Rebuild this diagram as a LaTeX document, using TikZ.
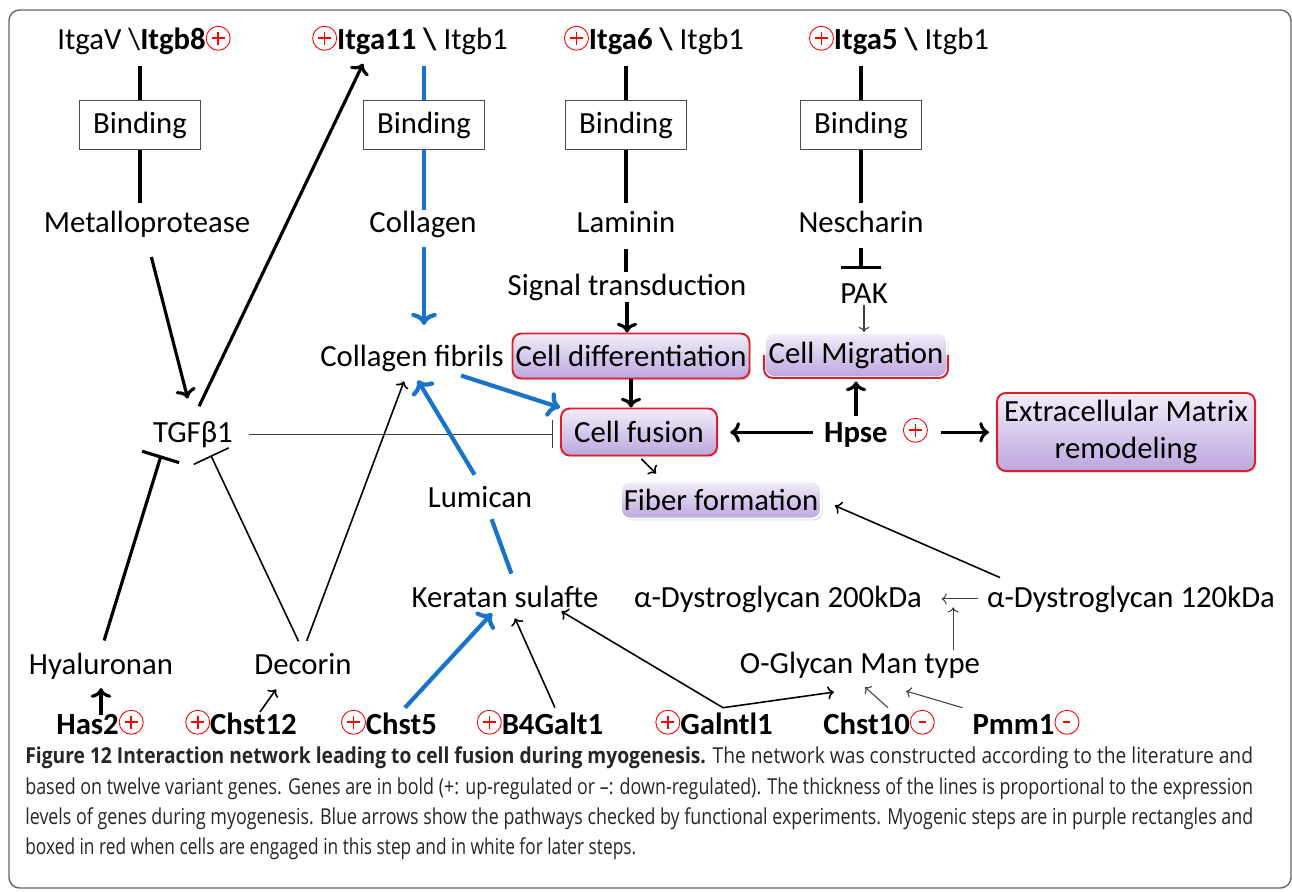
\documentclass[tikz,border=0pt]{standalone}
\usepackage{fontspec}
\setmainfont{Carlito}
\newfontfamily\capfont{Open Sans}
\usetikzlibrary{arrows.meta,shadows,calc}
\definecolor{pathblue}{RGB}{25,115,200}
\definecolor{stepred}{RGB}{222,30,40}
\definecolor{lavtop}{RGB}{242,238,250}
\definecolor{lavbot}{RGB}{188,166,222}
\newcommand{\up}{\tikz[baseline=-0.8ex,x=1cm,y=1cm]{\draw[red,line width=0.5pt] (0,0) circle (0.24); \draw[red,line width=0.9pt] (-0.13,0) -- (0.13,0) (0,-0.13) -- (0,0.13);}}
\newcommand{\dn}{\tikz[baseline=-0.8ex,x=1cm,y=1cm]{\draw[red,line width=0.5pt] (0,0) circle (0.24); \draw[red,line width=0.9pt] (-0.07,0) -- (0.07,0);}}
\newcommand{\capline}[2]{\resizebox{#1}{\height}{#2}}
\tikzset{t/.style={anchor=base,inner sep=1pt}}
\tikzset{bind/.style={rectangle,draw=black!70,line width=0.6pt,minimum width=2.42cm,minimum height=0.98cm}}
\tikzset{stepbox/.style={rectangle,rounded corners=5pt,draw=stepred,line width=1.1pt,top color=lavtop,bottom color=lavbot,inner sep=1pt,drop shadow={opacity=0.25,shadow xshift=1pt,shadow yshift=-1pt}}}
\tikzset{later/.style={stepbox,draw=white}}
\tikzset{captxt/.style={anchor=base west,inner sep=0pt,text=black!85,font=\capfont\fontsize{12.5}{15}\selectfont}}
\tikzset{thk/.style={line width=1.8pt}}
\tikzset{thn/.style={line width=0.9pt}}
\tikzset{hair/.style={line width=0.6pt,black!75}}
\tikzset{blu/.style={pathblue,line width=2.4pt}}

\begin{document}
\begin{tikzpicture}[x=0.02cm,y=-0.02cm,font=\fontsize{17.5}{21}\selectfont]
\useasboundingbox (0,0) rectangle (1292,892);
\draw[black!60,line width=0.8pt,rounded corners=6pt] (9,10) rectangle (1291,888);

% integrins and binding
\node[t] (itgb8) at (144,50) {ItgaV \textbackslash\textbf{Itgb8}\up};
\node[t] (itga11) at (410,50) {\up\textbf{Itga11 \textbackslash} Itgb1};
\node[t] (itga6) at (654,50) {\up\textbf{Itga6 \textbackslash} Itgb1};
\node[t] (itga5) at (899,50) {\up\textbf{Itga5 \textbackslash} Itgb1};
\node[bind] (bind1) at (140,125) {Binding};
\node[bind] (bind2) at (424,125) {Binding};
\node[bind] (bind3) at (626,125) {Binding};
\node[bind] (bind4) at (861,125) {Binding};

% ligands
\node[t] (metal) at (147,233) {Metalloprotease};
\node[t] (coll) at (423,233) {Collagen};
\node[t] (lam) at (626,233) {Laminin};
\node[t] (nesch) at (861,233) {Nescharin};
\node[t] (signal) at (627,295) {Signal transduction};
\node[t] (pak) at (864,303) {PAK};
\node[t] (fibrils) at (412,366) {Collagen fibrils};
\node[t] (tgf) at (193,442) {TGFβ1};
\node[t] (hpse) at (876,442) {\textbf{Hpse}\enspace\up};
\node[t] (lumi) at (480,507) {Lumican};
\node[t] (kera) at (505,607) {Keratan sulafte};
\node[t] (dys200) at (778,607) {α-Dystroglycan 200kDa};
\node[t] (dys120) at (1131,607) {α-Dystroglycan 120kDa};
\node[t] (hyal) at (101,674) {Hyaluronan};
\node[t] (deco) at (303,674) {Decorin};
\node[t] (oglyc) at (860,673) {O-Glycan Man type};

% myogenic steps
\node[stepbox,minimum width=4.74cm,minimum height=0.9cm] (diff) at (631,356) {Cell differentiation};
\node[later,minimum width=3.64cm,minimum height=0.88cm] (migr) at (856,355) {Cell Migration};
\draw[stepred,line width=1.1pt,rounded corners=5pt] (migr.west) |- (migr.south) -| (migr.east);
\node[stepbox,minimum width=3.12cm,minimum height=0.94cm] (fusion) at (639,432) {Cell fusion};
\node[stepbox,minimum width=5.16cm,minimum height=1.56cm,align=center] (ecm) at (1126,432) {Extracellular Matrix\\remodeling};
\node[later,minimum width=4cm,minimum height=0.74cm] (fiber) at (721,500) {Fiber formation};

% genes
\node[t] (has2) at (100,734) {\textbf{Has2}\up};
\node[t] (chst12) at (241,734) {\up\textbf{Chst12}};
\node[t] (chst5) at (389,734) {\up\textbf{Chst5}};
\node[t] (b4galt1) at (540,734) {\up\textbf{B4Galt1}};
\node[t] (galntl1) at (714,734) {\up\textbf{Galntl1}};
\node[t] (chst10) at (879,734) {\textbf{Chst10}\dn};
\node[t] (pmm1) at (1026,734) {\textbf{Pmm1}\dn};

% binding columns
\draw[thk,shorten <=5pt] (bind1.north |- itgb8.south) -- (bind1);
\draw[thk,shorten >=4pt] (bind1) -- (bind1 |- metal.north);
\draw[blu,shorten <=5pt] (bind2.north |- itga11.south) -- (bind2);
\draw[blu] (bind2) -- (bind2 |- coll.north);
\draw[thk,shorten <=5pt] (bind3.north |- itga6.south) -- (bind3);
\draw[thk,shorten >=4pt] (bind3) -- (bind3 |- lam.north);
\draw[thk,shorten <=5pt] (bind4.north |- itga5.south) -- (bind4);
\draw[thk,shorten >=4pt] (bind4) -- (bind4 |- nesch.north);
\draw[blu,->,shorten <=4pt,shorten >=10pt] (coll.south -| bind2) -- (bind2 |- fibrils.north);
\draw[thk,shorten <=8pt] (lam.south) -- (lam.south |- signal.north);
\draw[thk,->] (signal.south) -- (signal.south |- diff.north);
\draw[thk,-{Bar[width=23pt]},shorten <=7pt,shorten >=7pt] (nesch.south) -- (nesch.south |- pak.north);
\draw[hair,->] (pak.south) -- (pak.south |- migr.north);

% TGFb1
\draw[thk,->,shorten <=10pt,shorten >=12pt] (metal.south) -- (tgf.north);
\draw[thk,->,shorten <=8pt,shorten >=4pt] (tgf.north) -- ($(itga11.south west)!0.28!(itga11.south east)$);
\draw[hair,-{Bar[width=16pt]},shorten <=8pt,shorten >=4pt] (tgf.east) -- (tgf.east -| fusion.west);
\draw[thk,-{Bar[width=22pt]},shorten <=6pt] (hyal.north) -- ($(tgf.south west)+(10,6)$);
\draw[thn,-{Bar[width=22pt]},shorten <=6pt] (deco.north) -- ($(tgf.south east)+(-24,6)$);
\draw[thn,->,shorten <=6pt] (deco.north) -- ($(fibrils.south)+(-8,8)$);

% collagen and keratan
\draw[blu,->,shorten <=4pt] (fibrils.-20) -- (fusion.north west);
\draw[blu,->,shorten <=6pt,shorten >=2pt] (lumi.north) -- ($(fibrils.south)+(4,4)$);
\draw[blu,shorten <=6pt,shorten >=6pt] ($(kera.north)+(10,0)$) -- ($(lumi.south)+(8,0)$);

% steps
\draw[thk,->] (diff.south) -- (diff.south |- fusion.north);
\draw[thn,->,shorten <=2pt] (fusion.south) -- ($(fiber.north west)+(36,-7)$);
\draw[thk,->,shorten <=5pt,shorten >=7pt] (hpse.west) -- (hpse.west -| fusion.east);
\draw[thk,->,shorten <=6pt,shorten >=4pt] (hpse.east) -- (hpse.east -| ecm.west);
\draw[thk,->,shorten >=2pt] (migr.south |- hpse.north) -- (migr.south);

% dystroglycan
\draw[thn,->,shorten >=8pt] ($(dys120.north west)+(15,-6)$) -- (fiber.east);
\draw[hair,->,shorten <=4pt,shorten >=10pt] (dys120.west) -- (dys200.east);
\draw[hair,->,shorten >=-4pt] ($(oglyc.north east)+(-29,0)$) coordinate (og1) -- (og1 |- dys200.south);

% genes to products
\draw[thk,->,shorten <=-4pt,shorten >=4pt] (hyal.south |- has2.north) -- (hyal.south);
\draw[thn,->,shorten <=-3pt] ($(chst12.north)+(22,0)$) -- ($(deco.south)+(-27,13)$);
\draw[blu,->] ($(chst5.north)+(16,0)$) -- ($(kera.south)+(-13,4)$);
\draw[thn,->] ($(b4galt1.north)+(15,0)$) -- ($(kera.south)+(10,9)$);
\draw[thn,->] ($(galntl1.north)+(9,0)$) coordinate (gv) -- ($(kera.south east)+(-39,2)$);
\draw[thn,->] (gv) -- ($(oglyc.south)+(-26,12)$);
\draw[hair,->] ($(chst10.north)+(9,0)$) -- ($(oglyc.south)+(5,7)$);
\draw[hair,->] ($(pmm1.north west)+(-8,0)$) -- ($(oglyc.south)+(46,11)$);

% caption
\node[captxt] (cap1) at (25,763) {\capline{24.56cm}{\textbf{Figure 12 Interaction network leading to cell fusion during myogenesis.} The network was constructed according to the literature and}};
\node[captxt] (cap2) at (25,794) {\capline{24.56cm}{based on twelve variant genes. Genes are in bold (+: up-regulated or –: down-regulated). The thickness of the lines is proportional to the expression}};
\node[captxt] (cap3) at (25,824) {\capline{24.56cm}{levels of genes during myogenesis. Blue arrows show the pathways checked by functional experiments. Myogenic steps are in purple rectangles and}};
\node[captxt] (cap4) at (25,854) {\capline{12.22cm}{boxed in red when cells are engaged in this step and in white for later steps.}};
\end{tikzpicture}
\end{document}
